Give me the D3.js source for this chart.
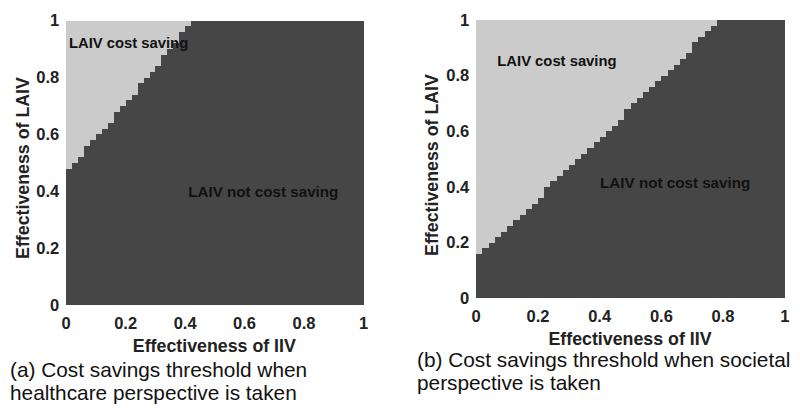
<!DOCTYPE html>
<html>
<head>
<meta charset="utf-8">
<script src="https://cdn.jsdelivr.net/npm/d3@7"></script>
<style>
  html, body { margin: 0; padding: 0; background: #fff; }
  svg { display: block; }
  text { font-family: "Liberation Sans", Arial, Helvetica, sans-serif; }
</style>
</head>
<body>
<svg id="chart" width="800" height="417"></svg>
<script>
// ---- Data ----
// Left edge of each grid column of IIV effectiveness
const iivGrid = [0.00,0.02,0.04,0.06,0.08,0.10,0.12,0.14,0.16,0.18,
                 0.20,0.22,0.24,0.26,0.28,0.30,0.32,0.34,0.36,0.38,
                 0.40,0.42,0.44,0.46,0.48,0.50,0.52,0.54,0.56,0.58,
                 0.60,0.62,0.64,0.66,0.68,0.70,0.72,0.74,0.76,0.78,
                 0.80,0.82,0.84,0.86,0.88,0.90,0.92,0.94,0.96,0.98];
const gridStep = 0.02;

// LAIV effectiveness above which LAIV is cost saving (per IIV column)
const thresholdHealthcare = [0.48,0.50,0.52,0.56,0.58,0.60,0.62,0.64,0.68,0.70,
                             0.72,0.74,0.78,0.80,0.82,0.84,0.88,0.90,0.92,0.96,
                             0.98,1.00,1.00,1.00,1.00,1.00,1.00,1.00,1.00,1.00,
                             1.00,1.00,1.00,1.00,1.00,1.00,1.00,1.00,1.00,1.00,
                             1.00,1.00,1.00,1.00,1.00,1.00,1.00,1.00,1.00,1.00];
const thresholdSocietal = [0.16,0.18,0.20,0.22,0.24,0.26,0.28,0.30,0.32,0.34,
                           0.36,0.40,0.42,0.44,0.46,0.48,0.50,0.52,0.54,0.56,
                           0.58,0.60,0.62,0.64,0.68,0.70,0.72,0.74,0.76,0.78,
                           0.80,0.82,0.84,0.86,0.88,0.92,0.94,0.96,0.98,1.00,
                           1.00,1.00,1.00,1.00,1.00,1.00,1.00,1.00,1.00,1.00];

const tickValues = [0, 0.2, 0.4, 0.6, 0.8, 1];
const tickLabels = ["0", "0.2", "0.4", "0.6", "0.8", "1"];

const xAxisTitle = "Effectiveness of IIV";
const yAxisTitle = "Effectiveness of LAIV";
const regionLabels = ["LAIV cost saving", "LAIV not cost saving"];
const captionsA = ["(a) Cost savings threshold when", "healthcare perspective is taken"];
const captionsB = ["(b) Cost savings threshold when societal", "perspective is taken"];

// ---- Styles / layout ----
const lightColor = "#cbcbcb";
const darkColor = "#464646";

const panels = [
  { thr: thresholdHealthcare, left: 65.7, right: 363, top: 20.7, bottom: 305,
    captions: captionsA, capX: 10, capY: 377, yTitleX: 29, yTitleY: 168,
    xTitleY: 352, costPos: [0.011, 0.903], notPos: [0.412, 0.381] },
  { thr: thresholdSocietal, left: 475.7, right: 784.3, top: 20, bottom: 298.3,
    captions: captionsB, capX: 417, capY: 367, yTitleX: 438, yTitleY: 165,
    xTitleY: 345, costPos: [0.07, 0.835], notPos: [0.403, 0.395] }
];

const svg = d3.select("#chart");

panels.forEach(p => {
  const x = d3.scaleLinear().domain([0, 1]).range([p.left, p.right]);
  const y = d3.scaleLinear().domain([0, 1]).range([p.bottom, p.top]);
  const g = svg.append("g");

  const cells = iivGrid.map((v, i) => ({ x0: v, x1: v + gridStep, t: p.thr[i] }));

  // dark part: LAIV not cost saving
  g.selectAll("rect.dark").data(cells).join("rect")
    .attr("class", "dark")
    .attr("x", d => x(d.x0))
    .attr("width", d => x(d.x1) - x(d.x0) + 0.6)
    .attr("y", d => y(d.t))
    .attr("height", d => y(0) - y(d.t))
    .attr("fill", darkColor)
    .attr("shape-rendering", "crispEdges");

  // light part: LAIV cost saving
  g.selectAll("rect.light").data(cells.filter(d => d.t < 1)).join("rect")
    .attr("class", "light")
    .attr("x", d => x(d.x0))
    .attr("width", d => x(d.x1) - x(d.x0) + 0.6)
    .attr("y", y(1))
    .attr("height", d => y(d.t) - y(1))
    .attr("fill", lightColor)
    .attr("shape-rendering", "crispEdges");

  // axes
  const fmt = d => tickLabels[tickValues.indexOf(d)];
  const xa = g.append("g").attr("transform", `translate(0,${p.bottom})`)
    .call(d3.axisBottom(x).tickValues(tickValues).tickFormat(fmt).tickSize(0).tickPadding(12));
  const ya = g.append("g").attr("transform", `translate(${p.left},0)`)
    .call(d3.axisLeft(y).tickValues(tickValues).tickFormat(fmt).tickSize(0).tickPadding(6.5));
  [xa, ya].forEach(a => {
    a.select(".domain").remove();
    a.selectAll("text")
      .attr("font-family", "'Liberation Sans', Arial, sans-serif")
      .attr("font-size", 16.5).attr("font-weight", "bold").attr("fill", "#222");
  });

  // axis titles
  g.append("text")
    .attr("x", (p.left + p.right) / 2).attr("y", p.xTitleY)
    .attr("text-anchor", "middle").attr("font-size", 17.8).attr("font-weight", "bold")
    .attr("fill", "#222").text(xAxisTitle);
  g.append("text")
    .attr("transform", `translate(${p.yTitleX},${p.yTitleY}) rotate(-90)`)
    .attr("text-anchor", "middle").attr("font-size", 17.8).attr("font-weight", "bold")
    .attr("fill", "#222").text(yAxisTitle);

  // region labels
  g.append("text")
    .attr("x", x(p.costPos[0])).attr("y", y(p.costPos[1]))
    .attr("font-size", 14.8).attr("font-weight", "bold").attr("fill", "#111")
    .text(regionLabels[0]);
  g.append("text")
    .attr("x", x(p.notPos[0])).attr("y", y(p.notPos[1]))
    .attr("font-size", 15.2).attr("font-weight", "bold").attr("fill", "#111")
    .text(regionLabels[1]);

  // captions
  p.captions.forEach((c, i) => {
    g.append("text")
      .attr("x", p.capX).attr("y", p.capY + i * 23)
      .attr("font-size", 20.8).attr("fill", "#111")
      .text(c);
  });
});
</script>
</body>
</html>
